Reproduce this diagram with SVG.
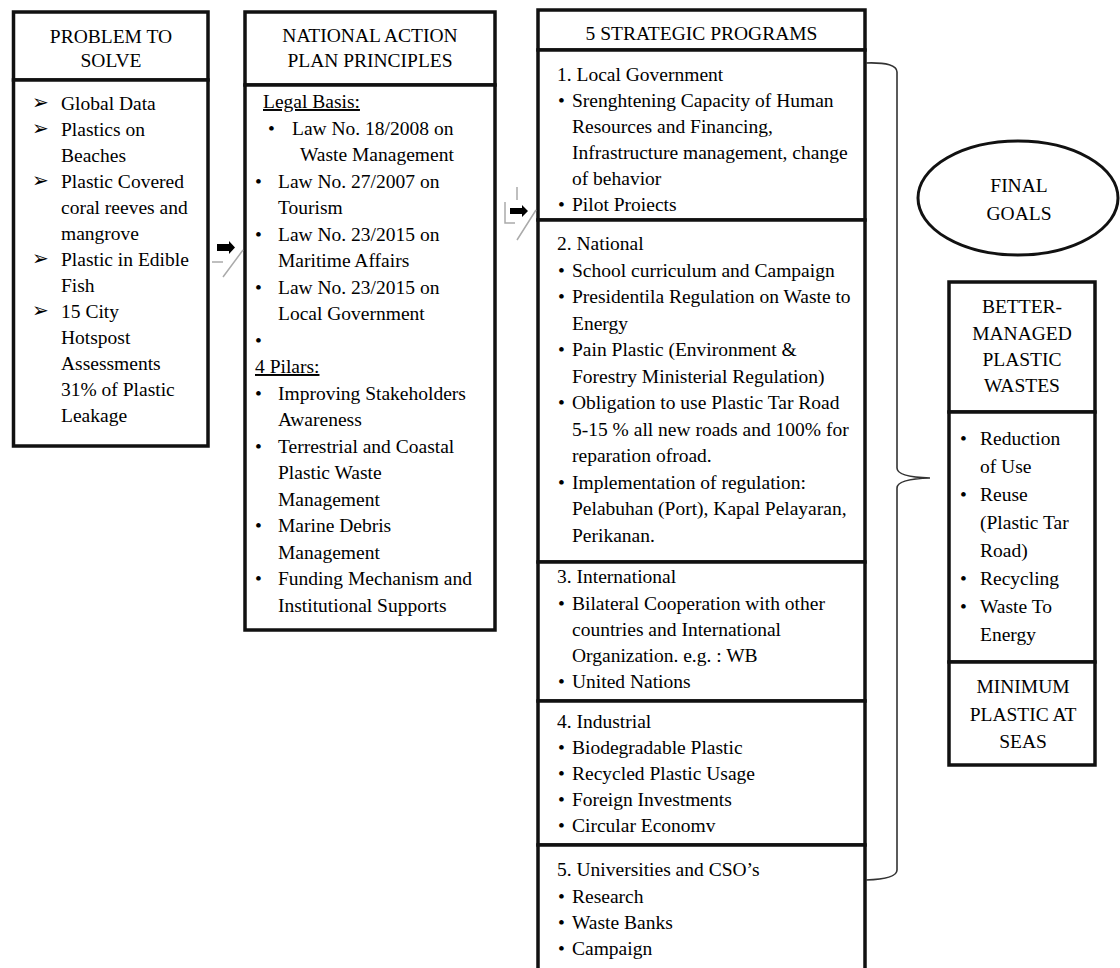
<svg xmlns="http://www.w3.org/2000/svg" width="1120" height="968" viewBox="0 0 1120 968" font-family="'Liberation Serif', 'DejaVu Serif', serif">
<style>
  text { font-family: 'Liberation Serif', 'Tinos', 'DejaVu Serif', serif; font-size: 19.5px; fill: #000; }
  .c { text-anchor: middle; }
  .box { fill: #fff; stroke: #111; stroke-width: 3.5; }
  .u { text-decoration: underline; }
  .arr { font-size: 19.5px; }
  .brace { fill: none; stroke: #333; stroke-width: 1.6; }
  .ghost { fill: none; stroke: #aaa; stroke-width: 1.5; }
</style>

<g id="problem">
  <rect class="box" x="13.5" y="12" width="194.5" height="68"/>
  <rect class="box" x="13.5" y="80" width="194.5" height="366"/>
  <text class="c" x="111" y="43">PROBLEM TO</text>
  <text class="c" x="111" y="67">SOLVE</text>
  <text class="arr" x="32" y="109">➢</text>
  <text class="arr" x="32" y="135">➢</text>
  <text class="arr" x="32" y="187">➢</text>
  <text class="arr" x="32" y="265">➢</text>
  <text class="arr" x="32" y="317">➢</text>
  <text x="61" y="110">Global Data</text>
  <text x="61" y="136">Plastics on</text>
  <text x="61" y="162">Beaches</text>
  <text x="61" y="188">Plastic Covered</text>
  <text x="61" y="214">coral reeves and</text>
  <text x="61" y="240">mangrove</text>
  <text x="61" y="266">Plastic in Edible</text>
  <text x="61" y="292">Fish</text>
  <text x="61" y="318">15 City</text>
  <text x="61" y="344">Hotspost</text>
  <text x="61" y="370">Assessments</text>
  <text x="61" y="396">31% of Plastic</text>
  <text x="61" y="422">Leakage</text>
</g>

<g id="principles">
  <rect class="box" x="245" y="12" width="250" height="73"/>
  <rect class="box" x="245" y="85" width="250" height="545"/>
  <text class="c" x="370" y="42">NATIONAL ACTION</text>
  <text class="c" x="370" y="67">PLAN PRINCIPLES</text>
  <text class="u" x="263" y="108">Legal Basis:</text>
  <text x="268" y="134.5">•</text>
  <text x="292" y="134.5">Law No. 18/2008 on</text>
  <text x="300" y="161">Waste Management</text>
  <text x="255" y="187.5">•</text>
  <text x="278" y="187.5">Law No. 27/2007 on</text>
  <text x="278" y="214">Tourism</text>
  <text x="255" y="240.5">•</text>
  <text x="278" y="240.5">Law No. 23/2015 on</text>
  <text x="278" y="267">Maritime Affairs</text>
  <text x="255" y="293.5">•</text>
  <text x="278" y="293.5">Law No. 23/2015 on</text>
  <text x="278" y="320">Local Government</text>
  <text x="255" y="346.5">•</text>
  <text class="u" x="255" y="373">4 Pilars:</text>
  <text x="255" y="399.5">•</text>
  <text x="278" y="399.5">Improving Stakeholders</text>
  <text x="278" y="426">Awareness</text>
  <text x="255" y="452.5">•</text>
  <text x="278" y="452.5">Terrestrial and Coastal</text>
  <text x="278" y="479">Plastic Waste</text>
  <text x="278" y="505.5">Management</text>
  <text x="255" y="532">•</text>
  <text x="278" y="532">Marine Debris</text>
  <text x="278" y="558.5">Management</text>
  <text x="255" y="585">•</text>
  <text x="278" y="585">Funding Mechanism and</text>
  <text x="278" y="611.5">Institutional Supports</text>
</g>

<g id="programs">
  <rect class="box" x="538" y="10" width="327" height="40"/>
  <rect class="box" x="538" y="50" width="327" height="170"/>
  <rect class="box" x="538" y="220" width="327" height="342"/>
  <rect class="box" x="538" y="562" width="327" height="139"/>
  <rect class="box" x="538" y="701" width="327" height="144"/>
  <rect class="box" x="538" y="845" width="327" height="140"/>
  <text class="c" x="701.5" y="40">5 STRATEGIC PROGRAMS</text>

  <text x="557" y="81">1. Local Government</text>
  <text x="558" y="107">•</text><text x="572" y="107">Srenghtening Capacity of Human</text>
  <text x="572" y="133">Resources and Financing,</text>
  <text x="572" y="159">Infrastructure management, change</text>
  <text x="572" y="185">of behavior</text>
  <text x="558" y="211">•</text><text x="572" y="211">Pilot Proiects</text>

  <text x="557" y="250">2. National</text>
  <text x="558" y="276.5">•</text><text x="572" y="276.5">School curriculum and Campaign</text>
  <text x="558" y="303">•</text><text x="572" y="303">Presidentila Regulation on Waste to</text>
  <text x="572" y="329.5">Energy</text>
  <text x="558" y="356">•</text><text x="572" y="356">Pain Plastic (Environment &amp;</text>
  <text x="572" y="382.5">Forestry Ministerial Regulation)</text>
  <text x="558" y="409">•</text><text x="572" y="409">Obligation to use Plastic Tar Road</text>
  <text x="572" y="435.5">5-15 % all new roads and 100% for</text>
  <text x="572" y="462">reparation ofroad.</text>
  <text x="558" y="488.5">•</text><text x="572" y="488.5">Implementation of regulation:</text>
  <text x="572" y="515">Pelabuhan (Port), Kapal Pelayaran,</text>
  <text x="572" y="541.5">Perikanan.</text>

  <text x="557" y="583">3. International</text>
  <text x="558" y="610">•</text><text x="572" y="610">Bilateral Cooperation with other</text>
  <text x="572" y="636">countries and International</text>
  <text x="572" y="662">Organization. e.g. : WB</text>
  <text x="558" y="688">•</text><text x="572" y="688">United Nations</text>

  <text x="557" y="728">4. Industrial</text>
  <text x="558" y="754">•</text><text x="572" y="754">Biodegradable Plastic</text>
  <text x="558" y="780">•</text><text x="572" y="780">Recycled Plastic Usage</text>
  <text x="558" y="806">•</text><text x="572" y="806">Foreign Investments</text>
  <text x="558" y="832">•</text><text x="572" y="832">Circular Economv</text>

  <text x="557" y="876">5. Universities and CSO’s</text>
  <text x="558" y="903">•</text><text x="572" y="903">Research</text>
  <text x="558" y="929">•</text><text x="572" y="929">Waste Banks</text>
  <text x="558" y="955">•</text><text x="572" y="955">Campaign</text>
</g>

<g id="final-goals">
  <ellipse cx="1018" cy="198" rx="100" ry="57" fill="#fff" stroke="#111" stroke-width="3"/>
  <text class="c" x="1019" y="192">FINAL</text>
  <text class="c" x="1019" y="220">GOALS</text>
</g>

<g id="better-managed">
  <rect class="box" x="949" y="282" width="146" height="130"/>
  <rect class="box" x="949" y="412" width="146" height="250"/>
  <text class="c" x="1022" y="313">BETTER-</text>
  <text class="c" x="1022" y="340">MANAGED</text>
  <text class="c" x="1022" y="366">PLASTIC</text>
  <text class="c" x="1022" y="392">WASTES</text>
  <text x="960" y="445">•</text><text x="980" y="445">Reduction</text>
  <text x="980" y="473">of Use</text>
  <text x="960" y="501">•</text><text x="980" y="501">Reuse</text>
  <text x="980" y="529">(Plastic Tar</text>
  <text x="980" y="557">Road)</text>
  <text x="960" y="585">•</text><text x="980" y="585">Recycling</text>
  <text x="960" y="613">•</text><text x="980" y="613">Waste To</text>
  <text x="980" y="641">Energy</text>
</g>

<g id="minimum-plastic">
  <rect class="box" x="949" y="662" width="146" height="103"/>
  <text class="c" x="1023" y="693">MINIMUM</text>
  <text class="c" x="1023" y="721">PLASTIC AT</text>
  <text class="c" x="1023" y="748">SEAS</text>
</g>

<g id="connectors">
  <path class="ghost" d="M212 262 H223 M223 277 L243 250"/>
  <path d="M217 244 H229 V241 L235 247.5 L229 254 V251 H217 Z" fill="#000"/>
  <path class="ghost" d="M517 187 V200 M505 202 V223 H515 M517 240 L536 210"/>
  <path d="M510 208 H522 V205 L528 211 L522 217 V214 H510 Z" fill="#000"/>
  <path class="brace" d="M866 63 Q897 62 897 72 V468 Q897 477 930 478 Q897 479 897 488 V870 Q897 879 866 880"/>
</g>
</svg>
